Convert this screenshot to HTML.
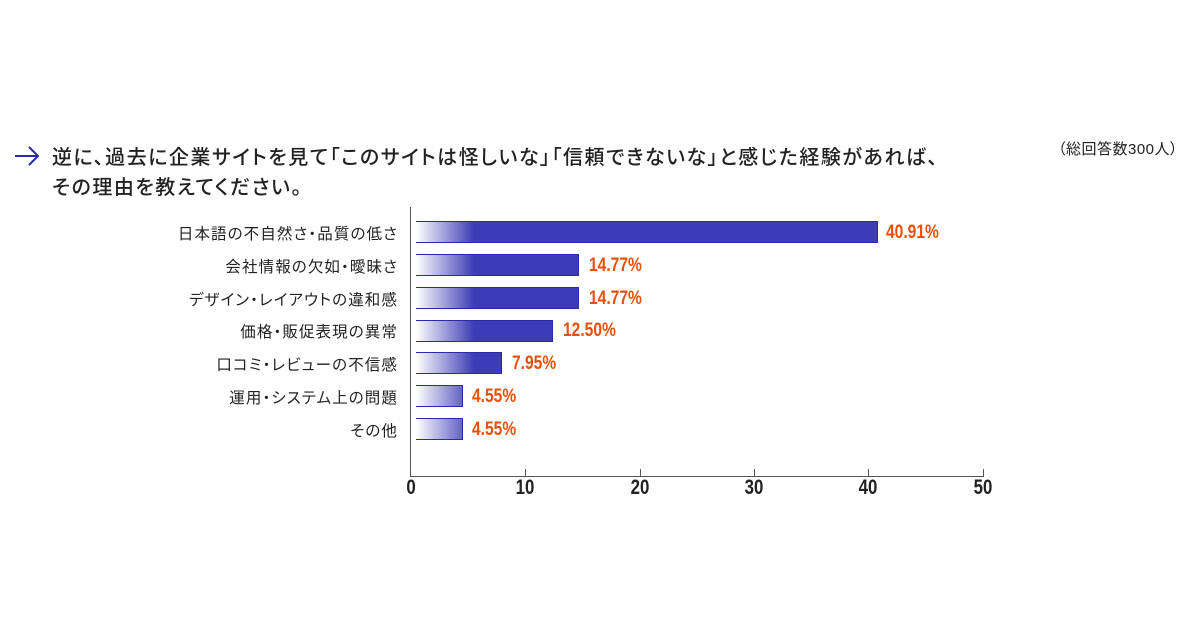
<!DOCTYPE html>
<html><head><meta charset="utf-8"><style>
body{margin:0;width:1200px;height:630px;background:#fff;position:relative;overflow:hidden;font-family:"Liberation Sans","Noto Sans CJK JP",sans-serif;color:#222}
.t{position:absolute;left:52px;font-size:20px;font-weight:500;white-space:nowrap;font-feature-settings:"palt";letter-spacing:1.5px}
.lab{position:absolute;right:802px;font-size:15.5px;white-space:nowrap;transform:translateY(-50%);font-feature-settings:"palt";letter-spacing:1.1px}
.bar{position:absolute;left:416px;height:22px;background:linear-gradient(90deg,#fff 0px,#3c3cb8 58px,#3c3cb8 100%);border-top:1px solid #2a2aa8;border-bottom:1px solid #2a2aa8;border-right:1px solid #2a2aa8;box-sizing:border-box}
.v{position:absolute;color:#e8500a;font-weight:bold;font-size:19px;transform:translateY(-50%) scaleX(0.82);transform-origin:left center;white-space:nowrap}
.tk{position:absolute;top:476px;font-weight:bold;font-size:21px;transform:translateX(-50%) scaleX(0.8);color:#222}
</style></head><body>
<svg style="position:absolute;left:12px;top:143px" width="30" height="26"><path d="M3 13H26M17 4L26 13L17 22" stroke="#2a2aa8" stroke-width="2" fill="none"/></svg>
<div class="t" style="top:141px">逆に、過去に企業サイトを見て「このサイトは怪しいな」「信頼できないな」と感じた経験があれば、</div>
<div class="t" style="top:171px">その理由を教えてください。</div>
<div style="position:absolute;left:1058px;top:138px;font-size:15px;font-feature-settings:'palt';letter-spacing:0.5px">（総回答数300人）</div>
<div style="position:absolute;left:410px;top:207px;width:1px;height:270px;background:#555"></div>
<div style="position:absolute;left:410px;top:476px;width:574px;height:1px;background:#555"></div>
<div style="position:absolute;left:525px;top:469px;width:1px;height:7px;background:#555"></div>
<div style="position:absolute;left:640px;top:469px;width:1px;height:7px;background:#555"></div>
<div style="position:absolute;left:754px;top:469px;width:1px;height:7px;background:#555"></div>
<div style="position:absolute;left:868px;top:469px;width:1px;height:7px;background:#555"></div>
<div style="position:absolute;left:983px;top:469px;width:1px;height:7px;background:#555"></div>
<div class="tk" style="left:411px">0</div><div class="tk" style="left:525px">10</div><div class="tk" style="left:640px">20</div><div class="tk" style="left:754px">30</div><div class="tk" style="left:868px">40</div><div class="tk" style="left:983px">50</div>

<div class="lab" style="top:233px">日本語の不自然さ・品質の低さ</div>
<div class="bar" style="top:221px;width:462px"></div><div class="v" style="left:886px;top:233px">40.91%</div>
<div class="lab" style="top:266px">会社情報の欠如・曖昧さ</div>
<div class="bar" style="top:254px;width:163px"></div><div class="v" style="left:589px;top:266px">14.77%</div>
<div class="lab" style="top:299px">デザイン・レイアウトの違和感</div>
<div class="bar" style="top:287px;width:163px"></div><div class="v" style="left:589px;top:299px">14.77%</div>
<div class="lab" style="top:331px">価格・販促表現の異常</div>
<div class="bar" style="top:320px;width:137px"></div><div class="v" style="left:563px;top:331px">12.50%</div>
<div class="lab" style="top:364px">口コミ・レビューの不信感</div>
<div class="bar" style="top:352px;width:86px"></div><div class="v" style="left:512px;top:364px">7.95%</div>
<div class="lab" style="top:397px">運用・システム上の問題</div>
<div class="bar" style="top:385px;width:47px"></div><div class="v" style="left:472px;top:397px">4.55%</div>
<div class="lab" style="top:430px">その他</div>
<div class="bar" style="top:418px;width:47px"></div><div class="v" style="left:472px;top:430px">4.55%</div>
</body></html>
